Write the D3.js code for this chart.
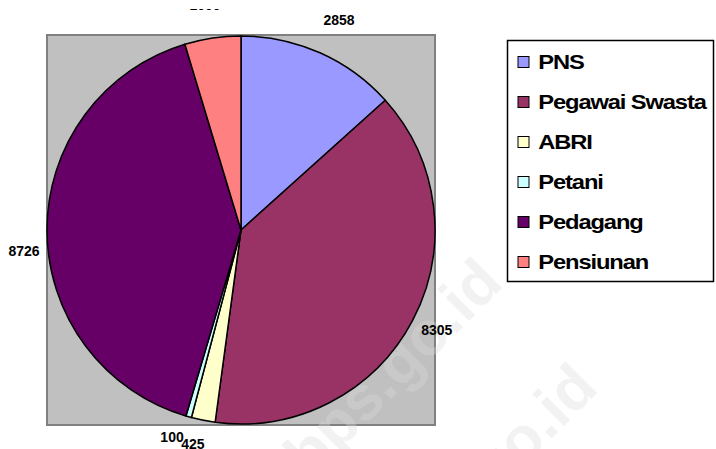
<!DOCTYPE html>
<html>
<head>
<meta charset="utf-8">
<script src="https://cdn.jsdelivr.net/npm/d3@7"></script>
<style>
  body { margin: 0; background: #fff; }
  svg { display: block; font-family: "Liberation Sans", Arial, sans-serif; }
</style>
</head>
<body>
<svg id="chart" width="716" height="449"></svg>
<script>
// data (Pensiunan label is cut off)
const categories = ["PNS", "Pegawai Swasta", "ABRI", "Petani", "Pedagang", "Pensiunan"];
const values = [2858, 8305, 425, 100, 8726, 1000];
const colors = ["#9999ff", "#993366", "#ffffcc", "#ccffff", "#660066", "#ff8080"];

const svg = d3.select("#chart");
const width = 716, height = 449;

const plot = { x: 47, y: 35, w: 388, h: 390 };
const cx = plot.x + plot.w / 2, cy = plot.y + plot.h / 2;
const radius = 194;

// grey plot area
svg.append("rect")
  .attr("x", plot.x).attr("y", plot.y)
  .attr("width", plot.w).attr("height", plot.h)
  .attr("fill", "#c0c0c0")
  .attr("stroke", "#808080")
  .attr("stroke-width", 2);

// faint watermark, sits under the pie
const wm = svg.append("g").attr("pointer-events", "none");
[[505, 285], [600, 390]].forEach(([x, y]) => {
  wm.append("text")
    .attr("transform", `translate(${x},${y}) rotate(-45)`)
    .attr("text-anchor", "end")
    .attr("font-size", 62)
    .attr("font-weight", "bold")
    .attr("fill", "#dcdcdc")
    .attr("opacity", 0.35)
    .text("bps.go.id");
});

const pie = d3.pie().sort(null).value(d => d)(values);
const arc = d3.arc().innerRadius(0).outerRadius(radius);

const g = svg.append("g").attr("transform", `translate(${cx},${cy})`);
g.selectAll("path")
  .data(pie)
  .join("path")
  .attr("d", arc)
  .attr("fill", (d, i) => colors[i])
  .attr("stroke", "#000")
  .attr("stroke-width", 1.5)
  .attr("stroke-linejoin", "round");

// value labels, Excel-ish placement around the pie
const labelArc = d3.arc().innerRadius(226).outerRadius(226);
const nudge = [[6, -4], [-4, -6], [-4, -8], [-8, -11], [9, 20], [-3, -1]];

svg.append("clipPath").attr("id", "lblclip")
  .append("rect").attr("x", 0).attr("y", 9).attr("width", width).attr("height", height);

svg.append("g")
  .attr("clip-path", "url(#lblclip)")
  .selectAll("text")
  .data(pie)
  .join("text")
  .attr("x", (d, i) => cx + labelArc.centroid(d)[0] + nudge[i][0])
  .attr("y", (d, i) => cy + labelArc.centroid(d)[1] + nudge[i][1])
  .attr("text-anchor", "middle")
  .attr("dominant-baseline", "central")
  .attr("font-size", 14)
  .attr("font-weight", "bold")
  .attr("fill", "#000")
  .text(d => d.data);

// legend
const legend = svg.append("g");
legend.append("rect")
  .attr("x", 507.5).attr("y", 40.5)
  .attr("width", 206).attr("height", 241)
  .attr("fill", "#fff")
  .attr("stroke", "#000")
  .attr("stroke-width", 1.5);

const rowY = d3.scalePoint().domain(categories).range([62, 262]);

const item = legend.selectAll("g.item")
  .data(categories)
  .join("g")
  .attr("class", "item")
  .attr("transform", d => `translate(518,${rowY(d)})`);

item.append("rect")
  .attr("x", 0).attr("y", -5.5)
  .attr("width", 11).attr("height", 11)
  .attr("fill", (d, i) => colors[i])
  .attr("stroke", "#000")
  .attr("stroke-width", 1);

item.append("text")
  .attr("x", 18)
  .attr("y", 0)
  .attr("dominant-baseline", "central")
  .attr("font-size", 21)
  .attr("font-weight", "bold")
  .attr("letter-spacing", -1)
  .attr("transform", "scale(1.13,1)")
  .text(d => d);
</script>
</body>
</html>
